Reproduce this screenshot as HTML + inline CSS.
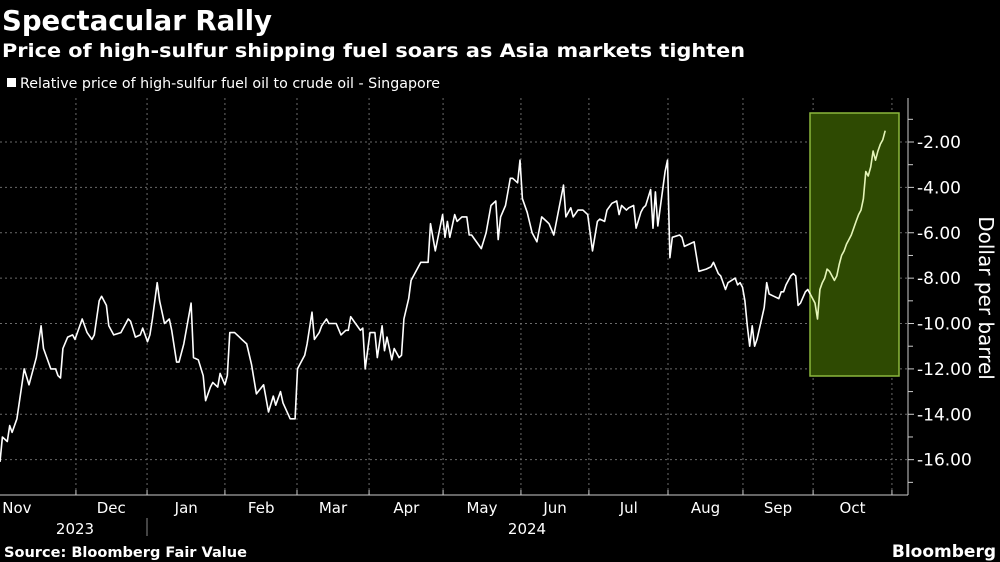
<!DOCTYPE html>
<html><head><meta charset="utf-8"><style>
html,body{margin:0;padding:0;background:#000;}
svg{display:block;}
text{font-family:"DejaVu Sans","Liberation Sans",sans-serif;fill:#fff;}
</style></head><body>
<svg id="chart" width="1000" height="562" viewBox="0 0 1000 562">
<text x="2" y="30" font-size="28" font-weight="bold" textLength="270" lengthAdjust="spacingAndGlyphs">Spectacular Rally</text>
<text x="2" y="57" font-size="19" font-weight="bold" textLength="743" lengthAdjust="spacingAndGlyphs">Price of high-sulfur shipping fuel soars as Asia markets tighten</text>
<rect x="7" y="78" width="9" height="9" fill="#fff"/>
<text x="20" y="88" font-size="14" textLength="420" lengthAdjust="spacingAndGlyphs">Relative price of high-sulfur fuel oil to crude oil - Singapore</text>
<g id="grid"></g>
<rect x="810" y="113" width="89" height="263" fill="#2e4a02" stroke="#8cb83c" stroke-width="1.5"/>
<g id="marks"></g>
<g id="axes"></g>
<text transform="translate(979,298) rotate(90)" text-anchor="middle" font-size="20">Dollar per barrel</text>
<text x="4" y="557" font-size="14" font-weight="bold" textLength="243" lengthAdjust="spacingAndGlyphs">Source: Bloomberg Fair Value</text>
<text x="996" y="557" text-anchor="end" font-size="17" font-weight="bold">Bloomberg</text>
</svg>
<script>
const days=[0,1,3,4,5,7,10,12,15,17,18,20,21,23,24,25,26,28,30,31,34,36,38,39,41,42,44,45,47,50,52,53,54,56,58,59,61,62,63,65,66,68,70,71,73,74,76,79,80,82,84,85,87,88,90,91,93,94,95,97,99,100,102,104,106,109,111,113,114,116,117,120,122,123,125,126,127,129,130,132,133,135,136,139,141,143,144,145,147,149,150,151,153,155,156,158,159,160,162,163,165,166,167,169,170,174,177,178,180,183,184,185,186,188,189,191,193,194,195,199,201,203,205,206,207,209,211,212,214,215,216,218,220,222,224,226,227,229,233,234,236,237,239,241,243,245,247,248,250,251,253,255,256,257,259,260,262,263,265,266,267,269,270,271,272,275,276,277,278,281,282,283,285,287,289,292,294,295,297,298,300,301,304,305,306,307,308,309,310,311,312,313,316,317,318,320,322,323,324,325,327,328,329,330,331,333,334,335,337,338,339,340,341,342,343,345,346,347,348,349,350,351,352,353,354,355,356,357,358,359,360,361,362,363,364,365,366];
const values=[-16.1,-15.0,-15.2,-14.5,-14.8,-14.2,-12.0,-12.7,-11.5,-10.1,-11.1,-11.7,-12.0,-12.0,-12.3,-12.4,-11.1,-10.6,-10.5,-10.7,-9.8,-10.4,-10.7,-10.5,-9.0,-8.8,-9.2,-10.1,-10.5,-10.4,-10.0,-9.8,-9.9,-10.6,-10.5,-10.2,-10.8,-10.5,-9.8,-8.2,-9.0,-10.0,-9.8,-10.3,-11.7,-11.7,-10.9,-9.1,-11.5,-11.6,-12.3,-13.4,-12.8,-12.6,-12.8,-12.2,-12.7,-12.3,-10.4,-10.4,-10.6,-10.7,-10.9,-11.8,-13.1,-12.7,-13.9,-13.2,-13.6,-13.0,-13.5,-14.2,-14.2,-12.0,-11.6,-11.4,-10.9,-9.5,-10.7,-10.4,-10.1,-9.8,-10.0,-10.0,-10.5,-10.3,-10.3,-9.7,-10.0,-10.3,-10.2,-12.0,-10.4,-10.4,-11.5,-10.1,-11.2,-10.6,-11.6,-11.1,-11.5,-11.4,-9.8,-8.9,-8.1,-7.3,-7.3,-5.6,-6.8,-5.2,-6.2,-5.5,-6.2,-5.2,-5.5,-5.3,-5.3,-6.1,-6.1,-6.7,-6.0,-4.8,-4.6,-6.3,-5.3,-4.8,-3.6,-3.6,-3.8,-2.8,-4.5,-5.1,-6.0,-6.4,-5.3,-5.5,-5.6,-6.1,-3.9,-5.3,-4.9,-5.3,-5.0,-5.0,-5.2,-6.8,-5.5,-5.4,-5.5,-5.0,-4.7,-4.6,-5.2,-4.8,-5.0,-4.9,-4.8,-5.8,-5.1,-4.9,-4.8,-4.1,-5.8,-4.2,-5.7,-3.3,-2.8,-7.1,-6.2,-6.1,-6.2,-6.6,-6.5,-6.4,-7.7,-7.6,-7.5,-7.3,-7.8,-7.9,-8.5,-8.2,-8.0,-8.3,-8.2,-8.4,-9.0,-10.1,-11.0,-10.1,-11.0,-10.7,-9.3,-8.2,-8.7,-8.8,-8.9,-8.6,-8.6,-8.3,-7.9,-7.8,-7.9,-9.2,-9.1,-8.6,-8.5,-8.7,-9.1,-9.8,-8.5,-8.2,-8.0,-7.6,-7.7,-8.1,-7.9,-7.4,-7.0,-6.8,-6.5,-6.3,-6.1,-5.8,-5.5,-5.2,-5.0,-4.5,-3.3,-3.5,-3.1,-2.4,-2.8,-2.4,-2.1,-1.9,-1.5];
const highlightStart=335;
const yTicks=[-2,-4,-6,-8,-10,-12,-14,-16];
const yTickLabels=["-2.00","-4.00","-6.00","-8.00","-10.00","-12.00","-14.00","-16.00"];
const monthStarts=[31.4,60.8,93,122.8,152.6,183.2,215.4,243.5,276.2,307.2,336.2,368.8];
const monthLabels=["Nov","Dec","Jan","Feb","Mar","Apr","May","Jun","Jul","Aug","Sep","Oct"];
const monthLabelDays=[7,46,77,108,137.7,168,199.3,229.5,260,291.7,321.7,352.5];

const NS="http://www.w3.org/2000/svg";
const X0=0,PXD=2.4185,Y0=142,PXU=22.69,AXX=908,AXY=495,TOP=98;
function xs(d){return X0+d*PXD;}
function ys(v){return Y0+(-2-v)*PXU;}
function mk(tag,attrs,parent){const e=document.createElementNS(NS,tag);for(const k in attrs)e.setAttribute(k,attrs[k]);parent.appendChild(e);return e;}
const grid=document.getElementById('grid'),axes=document.getElementById('axes'),marks=document.getElementById('marks');
yTicks.forEach((t,i)=>{
  const g=mk('line',{x1:0,x2:AXX,y1:ys(t),y2:ys(t),stroke:'#6a6a6a','stroke-width':1,'stroke-dasharray':'2,3'},grid);
  
  
  const tk=mk('line',{x1:AXX,x2:AXX+6,y1:ys(t),y2:ys(t),stroke:'#ccc','stroke-width':1},axes);
  
  
  const mn=mk('line',{x1:AXX,x2:AXX+5,y1:ys(t+1),y2:ys(t+1),stroke:'#ccc','stroke-width':1},axes);
  
  
  const lb=mk('text',{x:AXX+9,y:ys(t)+6,'font-size':17},axes);
  lb.textContent=yTickLabels[i];
  
  
});
const mn2=mk('line',{x1:AXX,x2:AXX+5,y1:ys(-17),y2:ys(-17),stroke:'#ccc'},axes);


monthStarts.forEach(d=>{
  const g=mk('line',{x1:xs(d),x2:xs(d),y1:TOP,y2:AXY,stroke:'#6a6a6a','stroke-width':1,'stroke-dasharray':'2,3'},grid);
  
  
  const tk=mk('line',{x1:xs(d),x2:xs(d),y1:AXY,y2:AXY-5,stroke:'#ccc'},axes);
  
  
});
monthLabels.forEach((m,i)=>{
  const t=mk('text',{x:xs(monthLabelDays[i]),y:513,'font-size':15,'text-anchor':'middle'},axes);
  t.textContent=m;
  
  
});
const y1=mk('text',{x:75,y:534,'font-size':15,'text-anchor':'middle'},axes);y1.textContent='2023';


const y2=mk('text',{x:527,y:534,'font-size':15,'text-anchor':'middle'},axes);y2.textContent='2024';


const sep=mk('line',{x1:147,x2:147,y1:518,y2:536,stroke:'#888'},axes);


const ax=mk('line',{x1:AXX,x2:AXX,y1:TOP,y2:AXY,stroke:'#ccc'},axes);


const bx=mk('line',{x1:0,x2:AXX,y1:AXY,y2:AXY,stroke:'#ccc'},axes);


let p1=[],p2=[];
days.forEach((d,i)=>{const pt=xs(d).toFixed(1)+','+ys(values[i]).toFixed(1);if(d<=highlightStart)p1.push(pt);if(d>=highlightStart)p2.push(pt);});
const l1=mk('polyline',{points:p1.join(' '),fill:'none',stroke:'#fff','stroke-width':1.6,'stroke-linejoin':'round'},marks);


const l2=mk('polyline',{points:p2.join(' '),fill:'none',stroke:'#e4f5b8','stroke-width':1.6,'stroke-linejoin':'round'},marks);


</script>
</body></html>
